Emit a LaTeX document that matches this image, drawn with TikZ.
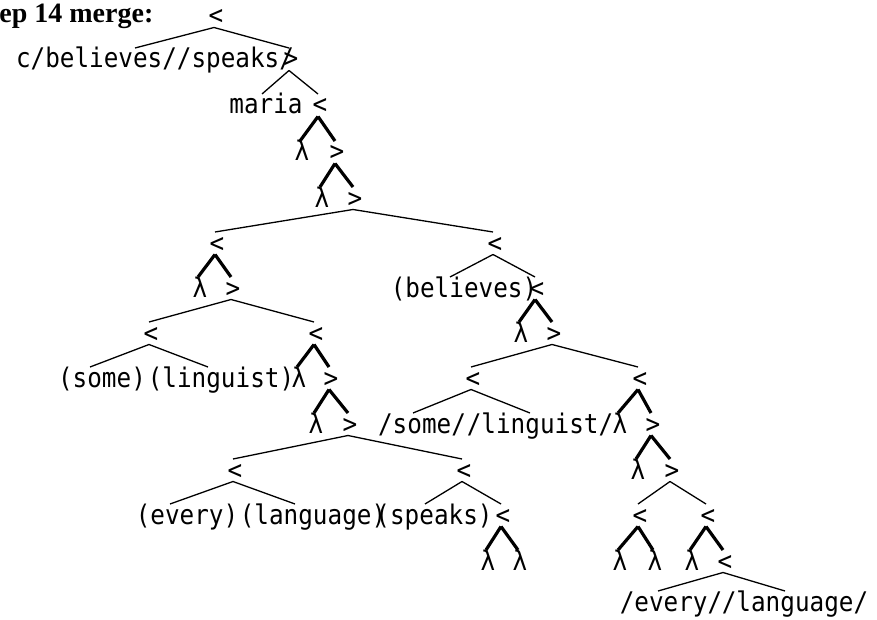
\documentclass[tikz,border=0pt]{standalone}
\usepackage{fontspec}
\newfontfamily\treefont[FakeStretch=0.9]{DejaVu Sans Mono}
\newfontfamily\headfont{Liberation Serif}
\newcommand\tn[3][-1pt]{\draw[thinln] ([xshift=-1pt,yshift=-1.25pt]#2.base) -- ([xshift=#1,yshift=10pt]#3.base);}
\newcommand\tk[3][-1pt]{\draw[thickln] ([xshift=-1pt,yshift=-1.25pt]#2.base) -- ([xshift=#1,yshift=10pt]#3.base);}
\begin{document}
\begin{tikzpicture}[x=0.5pt,y=-0.5pt,
  lab/.style={anchor=base,inner sep=0pt,font=\treefont\fontsize{13.5}{16}\selectfont},
  thinln/.style={line width=0.65pt,black},
  thickln/.style={line width=1.6pt,black}]
\useasboundingbox (0,0) rectangle (877,620);
\node[anchor=base west,inner sep=0pt,font=\headfont\bfseries\fontsize{14}{16}\selectfont] (head) at (-1,23) {ep 14 merge:};
% nodes
\node[lab] (n0) at (216,25) {<};
\node[lab] (n1) at (155,68) {c/believes//speaks/};
\node[lab] (n2) at (291,68) {>};
\node[lab] (n3) at (266,114) {maria};
\node[lab] (n4) at (320,114) {<};
\node[lab] (n5) at (302,161) {λ};
\node[lab] (n6) at (337,161) {>};
\node[lab] (n7) at (322,207) {λ};
\node[lab] (n8) at (355,207) {>};
\node[lab] (n9) at (217,252) {<};
\node[lab] (n10) at (495,252) {<};
\node[lab] (n11) at (200,297) {λ};
\node[lab] (n12) at (233,297) {>};
\node[lab] (n13) at (464,297) {(believes)};
\node[lab] (n14) at (537,297) {<};
\node[lab] (n15) at (151,342) {<};
\node[lab] (n16) at (316,342) {<};
\node[lab] (n17) at (521,342) {λ};
\node[lab] (n18) at (554,342) {>};
\node[lab] (n19) at (102,387) {(some)};
\node[lab] (n20) at (221,387) {(linguist)};
\node[lab] (n21) at (299,387) {λ};
\node[lab] (n22) at (331,387) {>};
\node[lab] (n23) at (473,387) {<};
\node[lab] (n24) at (640,387) {<};
\node[lab] (n25) at (316,433) {λ};
\node[lab] (n26) at (350,433) {>};
\node[lab] (n27) at (422,433) {/some/};
\node[lab] (n28) at (540,433) {/linguist/};
\node[lab] (n29) at (620,433) {λ};
\node[lab] (n30) at (653,433) {>};
\node[lab] (n31) at (235,479) {<};
\node[lab] (n32) at (464,479) {<};
\node[lab] (n33) at (638,479) {λ};
\node[lab] (n34) at (672,479) {>};
\node[lab] (n35) at (187,524) {(every)};
\node[lab] (n36) at (313,524) {(language)};
\node[lab] (n37) at (434,524) {(speaks)};
\node[lab] (n38) at (503,524) {<};
\node[lab] (n39) at (640,524) {<};
\node[lab] (n40) at (708,524) {<};
\node[lab] (n41) at (488,570) {λ};
\node[lab] (n42) at (520,570) {λ};
\node[lab] (n43) at (620,570) {λ};
\node[lab] (n44) at (655,570) {λ};
\node[lab] (n45) at (692,570) {λ};
\node[lab] (n46) at (725,570) {<};
\node[lab] (n47) at (671,611) {/every/};
\node[lab] (n48) at (795,611) {/language/};
% thin edges
\tn[-10pt]{n0}{n1}
\tn{n0}{n2}
\tn[-2pt]{n2}{n3}
\tn{n2}{n4}
\tn{n8}{n9}
\tn{n8}{n10}
\tn[-7pt]{n10}{n13}
\tn{n10}{n14}
\tn{n12}{n15}
\tn{n12}{n16}
\tn[-6pt]{n15}{n19}
\tn[-6.5pt]{n15}{n20}
\tn{n18}{n23}
\tn{n18}{n24}
\tn[-4.5pt]{n23}{n27}
\tn[-5pt]{n23}{n28}
\tn{n26}{n31}
\tn{n26}{n32}
\tn[-8.5pt]{n31}{n35}
\tn[-9pt]{n31}{n36}
\tn[-4.5pt]{n32}{n37}
\tn{n32}{n38}
\tn{n34}{n39}
\tn{n34}{n40}
\tn[-6.5pt]{n46}{n47}
\tn[-5pt]{n46}{n48}
% thick edges
\tk{n4}{n5}
\tk{n4}{n6}
\tk{n6}{n7}
\tk{n6}{n8}
\tk{n9}{n11}
\tk{n9}{n12}
\tk{n14}{n17}
\tk{n14}{n18}
\tk{n16}{n21}
\tk{n16}{n22}
\tk{n22}{n25}
\tk{n22}{n26}
\tk{n24}{n29}
\tk{n24}{n30}
\tk{n30}{n33}
\tk{n30}{n34}
\tk{n38}{n41}
\tk{n38}{n42}
\tk{n39}{n43}
\tk{n39}{n44}
\tk{n40}{n45}
\tk{n40}{n46}
\end{tikzpicture}
\end{document}
